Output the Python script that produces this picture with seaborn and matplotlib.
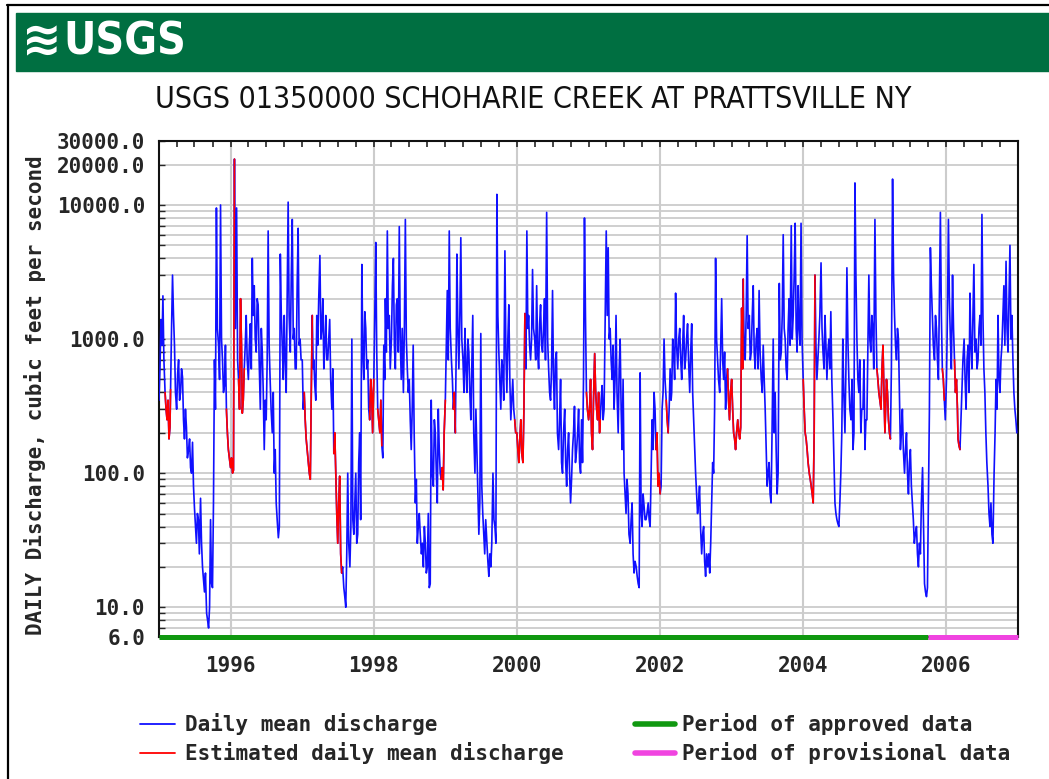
import numpy as np
import pandas as pd
import matplotlib
matplotlib.use("Agg")
import matplotlib.pyplot as plt
import matplotlib.dates as mdates
from matplotlib import font_manager as fm
from matplotlib.ticker import FixedLocator, FixedFormatter, LogLocator, NullFormatter
from matplotlib.lines import Line2D
from matplotlib.patches import Rectangle
import seaborn as sns

# Daily mean discharge (cfs).
# q_YYYY: readings on the 1st, 11th, 21st of each month
# m_YYYY: readings on the 6th, 16th, 26th of each month
# e_YYYY: "1" = estimated (for the q_ readings)
years = list(range(1995, 2007))

q_1995 = [350, 1400, 2100, 400, 250, 180, 420, 3000, 900, 300, 700, 400,
          520, 180, 220, 150, 110, 170, 55, 30, 45, 65, 20, 13,
          9, 7, 45, 14, 700, 9500, 900, 10000, 700, 450, 300, 150]
m_1995 = [600, 900, 700, 300, 350, 220, 1200, 1500, 400, 550, 350, 600,
          250, 300, 130, 180, 100, 80, 40, 50, 25, 30, 16, 18,
          8, 10, 15, 60, 300, 1200, 500, 1000, 400, 900, 200, 130]
e_1995 = "000" "111" "100" "000" "000" "000" "000" "000" "000" "000" "000" "011"

q_1996 = [110, 100, 22000, 9500, 500, 2000, 280, 600, 1500, 500, 1300, 4000,
          2500, 800, 1800, 300, 800, 150, 250, 6400, 500, 200, 100, 60,
          33, 4300, 900, 1500, 400, 10500, 800, 7800, 1200, 600, 6700, 1000]
m_1996 = [130, 105, 1200, 700, 300, 900, 350, 900, 700, 900, 600, 1500,
          1000, 2000, 700, 1200, 400, 350, 700, 900, 300, 400, 150, 45,
          40, 1500, 500, 700, 2000, 1500, 3000, 1000, 600, 2500, 900, 700]
e_1996 = "111" "011" "110" "000" "000" "000" "000" "000" "000" "000" "000" "000"

q_1997 = [700, 400, 180, 120, 90, 1500, 700, 350, 900, 4200, 1200, 600,
          1500, 700, 1400, 300, 140, 100, 30, 95, 18, 14, 10, 100,
          20, 1000, 35, 100, 35, 200, 3600, 500, 1200, 700, 250, 400]
m_1997 = [300, 250, 150, 100, 400, 600, 450, 1500, 2000, 1000, 2000, 900,
          700, 1000, 500, 600, 200, 50, 60, 25, 20, 12, 25, 30,
          40, 45, 60, 30, 120, 45, 800, 1600, 600, 300, 500, 200]
e_1997 = "011" "111" "000" "000" "000" "011" "111" "000" "000" "000" "000" "011"

q_1998 = [500, 5250, 300, 200, 160, 900, 2000, 6400, 1500, 1000, 4000, 600,
          2000, 6900, 500, 400, 7800, 600, 500, 150, 900, 60, 30, 50,
          25, 20, 30, 20, 14, 350, 80, 200, 60, 150, 90, 75]
m_1998 = [1500, 800, 250, 350, 130, 500, 800, 1200, 600, 2500, 900, 1800,
          800, 1000, 1200, 1200, 1000, 400, 250, 300, 200, 90, 40, 35,
          30, 40, 18, 50, 15, 100, 250, 100, 300, 100, 110, 200]
e_1998 = "101" "110" "000" "000" "000" "000" "000" "000" "000" "000" "000" "011"

q_1999 = [350, 2300, 6400, 700, 300, 200, 4300, 600, 5700, 700, 1200, 400,
          800, 250, 1500, 100, 150, 35, 1100, 50, 25, 30, 17, 20,
          100, 40, 12000, 800, 300, 600, 4550, 400, 1800, 250, 500, 250]
m_1999 = [900, 700, 1200, 500, 400, 1000, 1200, 1500, 1000, 400, 600, 1000,
          400, 600, 200, 300, 70, 60, 80, 35, 45, 22, 25, 30,
          45, 30, 1500, 500, 700, 350, 800, 1000, 500, 350, 300, 200]
e_1999 = "100" "011" "000" "000" "000" "000" "000" "000" "000" "000" "000" "001"

q_2000 = [200, 120, 250, 120, 1550, 6400, 1500, 700, 3300, 1000, 2500, 600,
          1800, 800, 2000, 8800, 600, 350, 2300, 300, 800, 150, 500, 100,
          300, 80, 200, 60, 150, 315, 150, 300, 100, 120, 8000, 400]
m_2000 = [150, 180, 140, 300, 600, 1200, 900, 1000, 1200, 700, 800, 1300,
          900, 1200, 700, 1000, 400, 600, 500, 700, 200, 250, 120, 200,
          120, 150, 100, 90, 200, 120, 200, 120, 250, 500, 1500, 300]
e_2000 = "111" "110" "000" "000" "000" "000" "000" "000" "000" "000" "000" "001"

q_2001 = [250, 500, 150, 780, 300, 400, 250, 450, 300, 6400, 4800, 1200,
          500, 300, 1500, 200, 1000, 150, 100, 50, 70, 30, 60, 18,
          20, 15, 560, 40, 57, 45, 60, 40, 250, 400, 150, 80]
m_2001 = [300, 200, 350, 400, 250, 200, 350, 250, 1200, 1500, 1000, 700,
          900, 500, 400, 600, 300, 500, 70, 90, 35, 45, 25, 22,
          17, 14, 50, 70, 45, 50, 45, 100, 150, 300, 200, 100]
e_2001 = "111" "111" "100" "000" "000" "000" "000" "000" "000" "000" "000" "011"

q_2002 = [70, 300, 1000, 350, 200, 600, 400, 800, 2200, 600, 1200, 500,
          1500, 700, 1300, 400, 1300, 250, 100, 50, 80, 25, 40, 17,
          20, 18, 60, 100, 4000, 700, 400, 2000, 500, 300, 600, 250]
m_2002 = [80, 400, 500, 250, 300, 350, 1000, 500, 900, 1000, 700, 900,
          600, 1000, 700, 800, 400, 150, 70, 60, 40, 35, 22, 25,
          25, 30, 120, 300, 1000, 500, 900, 700, 800, 500, 350, 400]
e_2002 = "100" "110" "000" "000" "000" "000" "000" "000" "000" "000" "000" "011"

q_2003 = [500, 200, 150, 250, 180, 1700, 2800, 700, 5900, 1500, 800, 2500,
          600, 1200, 2300, 500, 900, 300, 80, 120, 60, 1000, 400, 70,
          2600, 800, 6000, 1000, 500, 2000, 7000, 1500, 7300, 800, 1200, 7300]
m_2003 = [300, 180, 200, 200, 220, 600, 800, 1500, 1200, 700, 1500, 800,
          1000, 600, 800, 400, 500, 150, 100, 70, 200, 200, 150, 100,
          700, 1500, 1200, 600, 1200, 900, 1000, 3000, 1200, 2500, 900, 1000]
e_2003 = "111" "111" "100" "000" "000" "000" "000" "000" "000" "000" "000" "000"

q_2004 = [500, 200, 150, 100, 80, 60, 3000, 500, 1000, 3700, 800, 1500,
          500, 1000, 1600, 250, 60, 45, 40, 100, 1000, 200, 3400, 500,
          250, 150, 14600, 1000, 400, 200, 300, 150, 250, 3000, 800, 1200]
m_2004 = [300, 180, 120, 90, 70, 200, 900, 700, 1500, 1200, 600, 900,
          800, 600, 500, 120, 50, 42, 60, 200, 400, 600, 1000, 300,
          500, 200, 3000, 500, 700, 300, 700, 250, 900, 1000, 1500, 600]
e_2004 = "111" "111" "100" "000" "000" "000" "000" "000" "000" "000" "000" "000"

q_2005 = [7800, 600, 400, 300, 900, 200, 500, 250, 180, 15600, 1500, 700,
          1000, 150, 300, 100, 200, 70, 150, 60, 30, 40, 20, 25,
          110, 15, 12, 60, 4800, 1500, 700, 1200, 500, 8800, 600, 350]
m_2005 = [1500, 500, 350, 600, 400, 350, 400, 200, 600, 3000, 900, 1200,
          400, 200, 150, 150, 100, 120, 80, 45, 35, 25, 30, 60,
          40, 13, 14, 300, 2500, 900, 1500, 700, 2000, 1500, 500, 250]
e_2005 = "011" "111" "111" "000" "000" "000" "000" "000" "000" "000" "000" "011"

q_2006 = [500, 7800, 1000, 3000, 700, 500, 180, 150, 400, 1000, 300, 900,
          2200, 600, 3600, 1000, 700, 1500, 8500, 600, 200, 80, 40, 35,
          100, 500, 1500, 400, 900, 2500, 3800, 800, 5000, 1500, 400, 250]
m_2006 = [1500, 2000, 600, 1200, 400, 300, 160, 250, 700, 500, 700, 400,
          900, 1500, 800, 600, 1200, 900, 1500, 400, 120, 50, 60, 30,
          200, 300, 500, 700, 1500, 900, 1200, 2000, 1000, 700, 300, 200]
e_2006 = "000" "011" "110" "000" "000" "000" "000" "000" "000" "000" "000" "000"

main_vals = [q_1995, q_1996, q_1997, q_1998, q_1999, q_2000,
             q_2001, q_2002, q_2003, q_2004, q_2005, q_2006]
mid_vals = [m_1995, m_1996, m_1997, m_1998, m_1999, m_2000,
            m_2001, m_2002, m_2003, m_2004, m_2005, m_2006]
flags = [e_1995, e_1996, e_1997, e_1998, e_1999, e_2000,
         e_2001, e_2002, e_2003, e_2004, e_2005, e_2006]

period_names = ["Period of approved data", "Period of provisional data"]
period_start = ["1995-01-01", "2005-10-01"]
period_end = ["2005-10-01", "2007-01-01"]

ytick_vals = [6, 10, 100, 1000, 10000, 20000, 30000]
ytick_labels = ["6.0", "10.0", "100.0", "1000.0", "10000.0", "20000.0", "30000.0"]

title = "USGS 01350000 SCHOHARIE CREEK AT PRATTSVILLE NY"
ylabel = "DAILY Discharge, cubic feet per second"

# ── build the table ─────────────────────────────────────────────
main_flag = [c == "1" for f in flags for c in f]
rows = []
k = 0
for yr, qs, ms in zip(years, main_vals, mid_vals):
    for i in range(36):
        month, day = i // 3 + 1, 1 + 10 * (i % 3)
        nxt = main_flag[k + 1] if k + 1 < len(main_flag) else False
        rows.append((pd.Timestamp(yr, month, day), qs[i], main_flag[k]))
        rows.append((pd.Timestamp(yr, month, day + 5), ms[i], main_flag[k] and nxt))
        k += 1
df = pd.DataFrame(rows, columns=["date", "cfs", "estimated"])

# contiguous estimated runs
df["seg"] = (df["estimated"] != df["estimated"].shift()).cumsum()
df_est = df[df["estimated"]]

# ── figure ──────────────────────────────────────────────────────
sns.set_style("white")
plt.rcParams["font.family"] = ["DejaVu Sans Mono"]
plt.rcParams["font.weight"] = "bold"
plt.rcParams["font.size"] = 15

cond_path = fm.findfont(fm.FontProperties(family="DejaVu Sans", stretch="condensed"))
if "Condensed" in cond_path:
    title_font = dict(family=["DejaVu Sans"], stretch="condensed", fontsize=21.7)
    logo_font = dict(family=["DejaVu Sans"], stretch="condensed", fontsize=32)
else:
    title_font = dict(family=["Liberation Sans"], fontsize=19.7)
    logo_font = dict(family=["Liberation Sans"], fontsize=32)

W, H = 1049, 779
fig = plt.figure(figsize=(W / 100, H / 100), dpi=100, facecolor="white")

# frame and banner
fig.add_artist(Line2D([7 / W, 1], [1 - 4.5 / H, 1 - 4.5 / H], color="black", lw=1.6))
fig.add_artist(Line2D([7.5 / W, 7.5 / W], [0, 1 - 4.5 / H], color="black", lw=1.6))
fig.add_artist(Rectangle((16 / W, 1 - 71 / H), 1, 58 / H, transform=fig.transFigure,
                         color="#006f41", zorder=1))
fig.text(22 / W, 1 - 43 / H, "≋", color="white", fontsize=34, weight="bold",
         family=["DejaVu Sans"], va="center", ha="left", zorder=2)
fig.text(63 / W, 1 - 42 / H, "USGS", color="white", weight="bold",
         va="center", ha="left", zorder=2, **logo_font)

fig.text(533 / W, 1 - 100 / H, title, weight="normal", ha="center", va="center",
         color="#111111", **title_font)
fig.text(35 / W, 1 - 395 / H, ylabel, rotation=90, ha="center", va="center")

ax = fig.add_axes([159 / W, 1 - 637 / H, (1018 - 159) / W, (637 - 141) / H])

sns.lineplot(data=df, x="date", y="cfs", estimator=None, color="#1010ff",
             lw=1.2, ax=ax, zorder=3)
sns.lineplot(data=df_est, x="date", y="cfs", units="seg", estimator=None,
             color="#ff0000", lw=1.2, ax=ax, zorder=4)

for name, s, e, c in zip(period_names, period_start, period_end, ["#109810", "#f044e0"]):
    sns.lineplot(x=[pd.Timestamp(s), pd.Timestamp(e)], y=[6, 6], color=c, lw=3.6,
                 ax=ax, clip_on=False, zorder=6, solid_capstyle="butt")

ax.set_yscale("log")
ax.set_ylim(6, 30000)
ax.set_xlim(pd.Timestamp("1995-01-01"), pd.Timestamp("2007-01-01"))
ax.yaxis.set_major_locator(FixedLocator(ytick_vals))
ax.yaxis.set_major_formatter(FixedFormatter(ytick_labels))
ax.yaxis.set_minor_locator(LogLocator(base=10, subs=range(2, 10), numticks=20))
ax.yaxis.set_minor_formatter(NullFormatter())
ax.xaxis.set_major_locator(mdates.YearLocator(2))
ax.xaxis.set_major_formatter(mdates.DateFormatter("%Y"))
ax.xaxis.set_minor_locator(mdates.MonthLocator(bymonth=[1, 4, 7, 10]))

ax.grid(which="both", axis="y", color="#cccccc", lw=1.3)
ax.grid(which="major", axis="x", color="#cccccc", lw=1.5)
ax.set_axisbelow(True)

ax.tick_params(axis="x", which="both", top=True, bottom=False, direction="in",
               length=4, width=1.2, labelbottom=True, labeltop=False, pad=14)
ax.tick_params(axis="y", which="both", left=True, right=False, direction="in",
               length=4, width=1, pad=10)
ax.set_xlabel("")
ax.set_ylabel("")
for sp in ax.spines.values():
    sp.set_color("#111111")
    sp.set_linewidth(1.5)

# legend
prop = dict(family="DejaVu Sans Mono", weight="bold", size=15)
h1 = [Line2D([], [], color="#1010ff", lw=1.3), Line2D([], [], color="#ff0000", lw=1.3)]
h2 = [Line2D([], [], color="#109810", lw=4), Line2D([], [], color="#f044e0", lw=4)]
fig.legend(h1, ["Daily mean discharge", "Estimated daily mean discharge"],
           loc="upper left", bbox_to_anchor=(140 / W, 1 - 713 / H), frameon=False,
           prop=prop, handlelength=1.7, handletextpad=0.45, labelspacing=0.35,
           borderpad=0, borderaxespad=0)
fig.legend(h2, period_names,
           loc="upper left", bbox_to_anchor=(635 / W, 1 - 713 / H), frameon=False,
           prop=prop, handlelength=1.9, handletextpad=0.35, labelspacing=0.35,
           borderpad=0, borderaxespad=0)

fig.savefig("out.png", dpi=100, facecolor="white")
